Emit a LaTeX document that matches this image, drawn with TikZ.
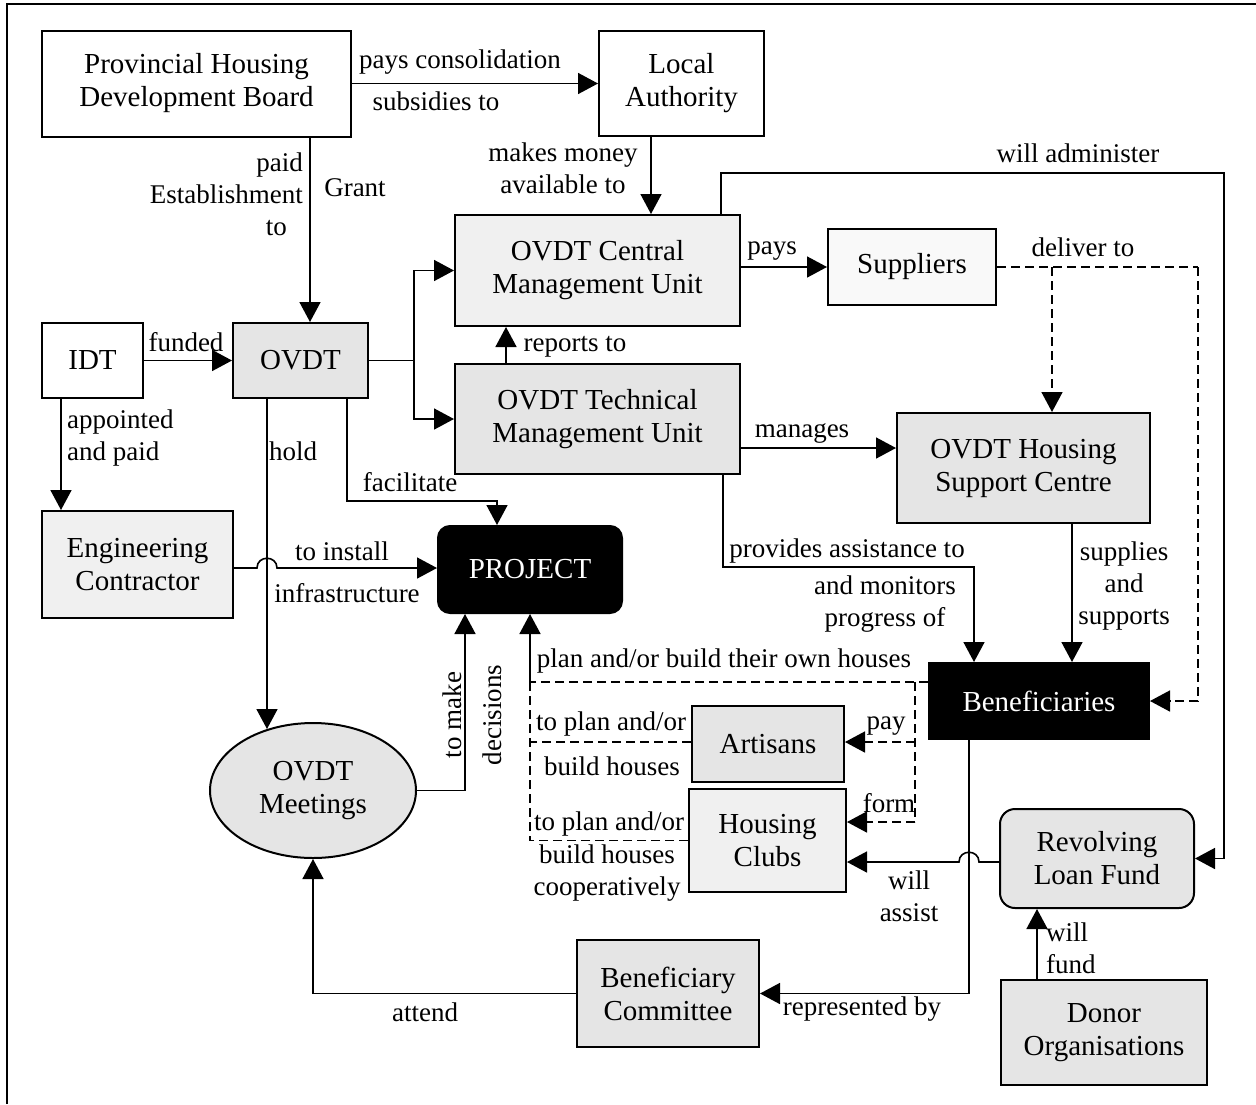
\documentclass[tikz,border=0pt]{standalone}
\usepackage{fontspec}
\setmainfont{Liberation Serif}
\usetikzlibrary{arrows.meta,calc,shapes.geometric}
\newcommand{\boxfont}{\fontsize{29}{33}\selectfont}
\newcommand{\tagfont}{\fontsize{27}{32}\selectfont}
\begin{document}
\begin{tikzpicture}[x=1pt,y=-1pt,
  box/.style={draw, line width=2pt, inner sep=0pt, align=center, font=\boxfont},
  lite/.style={box, fill=gray!12},
  deep/.style={box, fill=gray!20},
  blk/.style={box, fill=black, text=white},
  lbl/.style={inner sep=0pt, font=\tagfont, align=center},
  conn/.style={line width=1.6pt},
  arr/.style={conn, -{Triangle[length=20pt,width=21pt]}},
  dsh/.style={dash pattern=on 9pt off 5pt}]
\useasboundingbox (0,0) rectangle (1256,1104);
% frame
\draw[line width=2pt] (7,1104) -- (7,4) -- (1256,4);

% organisations
\node[box, minimum width=309pt, minimum height=106pt] (phdb) at (196.5,83.5) {Provincial Housing\\Development Board};
\node[box, minimum width=165pt, minimum height=105pt] (la) at (681.5,83.5) {Local\\Authority};
\node[lite, minimum width=285pt, minimum height=111pt] (cmu) at (597.5,270.5) {OVDT Central\\Management Unit};
\node[deep, minimum width=285pt, minimum height=110pt] (tmu) at (597.5,419) {OVDT Technical\\Management Unit};
\node[box, fill=gray!5, minimum width=168pt, minimum height=76pt] (sup) at (912,267) {Suppliers};
\node[deep, minimum width=253pt, minimum height=110pt] (hsc) at (1023.5,468) {OVDT Housing\\Support Centre};
\node[box, minimum width=101pt, minimum height=75pt] (idt) at (92.5,360.5) {IDT};
\node[deep, minimum width=135pt, minimum height=75pt] (ovdt) at (300.5,360.5) {OVDT};
\node[lite, minimum width=191pt, minimum height=107pt] (ec) at (137.5,564.5) {Engineering\\Contractor};
\node[blk, rounded corners=12pt, minimum width=184pt, minimum height=87pt] (proj) at (530,569.5) {PROJECT};
\node[blk, minimum width=220pt, minimum height=76pt] (ben) at (1039,701) {Beneficiaries};
\node[deep, minimum width=152pt, minimum height=76pt] (art) at (768,744) {Artisans};
\node[lite, minimum width=157pt, minimum height=103pt] (hc) at (767.5,840.5) {Housing\\Clubs};
\node[deep, ellipse, minimum width=206pt, minimum height=135pt] (meet) at (313,790.5) {OVDT\\Meetings};
\node[deep, rounded corners=15pt, minimum width=194pt, minimum height=99pt] (rlf) at (1097,858.5) {Revolving\\Loan Fund};
\node[deep, minimum width=206pt, minimum height=105pt] (donor) at (1104,1032.5) {Donor\\Organisations};
\node[deep, minimum width=182pt, minimum height=107pt] (bc) at (668,993.5) {Beneficiary\\Committee};

% junction points
\coordinate (split) at (414,360.5);
\coordinate (adm) at (1224,173);
\coordinate (dlv) at (1198,267);
\coordinate (dlvb) at (1052,267);
\coordinate (own) at (530,682);
\coordinate (ownr) at (915,682);
\coordinate (meettop) at (267,729);

% funding chain
\draw[arr] (phdb.east) -- (la.west);
\draw[arr] ([xshift=-30.5pt]la.south) -- ([xshift=-30.5pt]la.south |- cmu.north);
\draw[arr] ([xshift=9.5pt]ovdt.north |- phdb.south) -- ([xshift=9.5pt]ovdt.north);
\draw[arr] (idt.east) -- (ovdt.west);
\draw[arr] ([xshift=-31.5pt]idt.south) -- ([xshift=-31.5pt]idt.south |- ec.north);

% OVDT units
\draw[conn] (ovdt.east) -- (split);
\draw[arr] (split) |- (cmu.west);
\draw[arr] (split) |- (tmu.west);
\draw[arr] ([xshift=-91.5pt]tmu.north) -- ([xshift=-91.5pt]cmu.south);
\draw[arr] (cmu.east |- sup.west) -- (sup.west);
\draw[arr] (tmu.east |- 0,448) -- (hsc.west |- 0,448);
\draw[arr] ([xshift=123.5pt]cmu.north) |- (adm) |- (rlf.east);

% deliveries
\draw[conn, dsh] (sup.east) -- (dlv);
\draw[arr, dsh] (dlvb) -- (dlvb |- hsc.north);
\draw[arr, dsh] (dlv) |- (ben.east);

% support to beneficiaries
\draw[arr] ([xshift=125.5pt]tmu.south) |- (974,567) -- (974,567 |- ben.north);
\draw[arr] ([xshift=48.5pt]hsc.south) -- ([xshift=48.5pt]hsc.south |- ben.north);

% OVDT to meetings and project
\draw[arr] ([xshift=-33.5pt]ovdt.south) -- (meettop);
\draw[arr] ([xshift=46.5pt]ovdt.south) |- (497,501) -- ([xshift=-33pt]proj.north);
\draw[arr] (ec.east |- 0,568) -- (257,568) .. controls (257,555) and (277,555) .. (277,568) -- (proj.west |- 0,568);
\draw[arr] (meet.east) -| ([xshift=-65pt]proj.south);

% building routes into the project
\draw[conn, dsh] (ben.west |- own) -- (own);
\draw[arr] (own) -- (proj.south |- own) -- (proj.south);
\draw[conn, dsh] (own) -- (530,840.5);
\draw[conn, dsh] (art.west |- 0,742) -- (530,742);
\draw[conn, dsh] (hc.west) -- (530,840.5);
\draw[conn, dsh] (ownr) -- (915,822);
\draw[arr, dsh] (915,742) -- (art.east |- 0,742);
\draw[arr, dsh] (915,822) -- (hc.east |- 0,822);

% committee and loan fund
\draw[arr] ([xshift=-70pt]ben.south) |- (bc.east);
\draw[arr] (bc.west) -| (meet.south);
\draw[arr] (rlf.west |- 0,862) -- (979,862) .. controls (979,849) and (959,849) .. (959,862) -- (hc.east |- 0,862);
\draw[arr] ([xshift=-67pt]donor.north) -- ([xshift=-67pt]donor.north |- rlf.south);

% connector labels
\node[lbl] (t1) at (460,62) {pays consolidation};
\node[lbl] (t2) at (436,101) {subsidies to};
\node[lbl] (t3) at (563,168) {makes money\\available to};
\node[lbl, align=right, anchor=east] (t4) at (303,194) {paid\\Establishment\\to\hspace*{16pt}};
\node[lbl] (t5) at (355,188) {Grant};
\node[lbl] (t6) at (186,342) {funded};
\node[lbl, align=left, anchor=west] (t7) at (67,438) {appointed\\and paid};
\node[lbl] (t8) at (575,347) {reports to};
\node[lbl] (t9) at (772,251) {pays};
\node[lbl] (t10) at (802,433) {manages};
\node[lbl] (t11) at (1083,247) {deliver to};
\node[lbl] (t12) at (1078,153) {will administer};
\node[lbl] (t13) at (293,451) {hold};
\node[lbl] (t14) at (410,482) {facilitate};
\node[lbl] (t15) at (342,551) {to install};
\node[lbl] (t16) at (347,593) {infrastructure};
\node[lbl] (t17) at (847,551) {provides assistance to};
\node[lbl] (t18) at (885,604) {and monitors\\progress of};
\node[lbl] (t19) at (1124,586) {supplies\\and\\supports};
\node[lbl] (t20) at (724,661) {plan and/or build their own houses};
\node[lbl, rotate=90] (t21) at (452,715) {to make};
\node[lbl, rotate=90] (t22) at (492,715) {decisions};
\node[lbl] (t23) at (611,724) {to plan and/or};
\node[lbl] (t24) at (612,766) {build houses};
\node[lbl] (t25) at (609,824) {to plan and/or};
\node[lbl] (t26) at (607,873) {build houses\\cooperatively};
\node[lbl] (t27) at (886,726) {pay};
\node[lbl] (t28) at (889,803) {form};
\node[lbl] (t29) at (909,896) {will\\assist};
\node[lbl, align=left, anchor=west] (t30) at (1046,948) {will\\fund};
\node[lbl] (t31) at (862,1009) {represented by};
\node[lbl] (t32) at (425,1012) {attend};
\end{tikzpicture}
\end{document}
